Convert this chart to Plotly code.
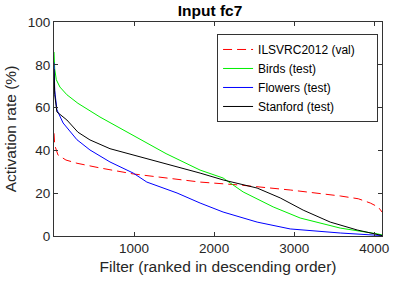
import plotly.graph_objects as go

# Filter rank positions and activation rates (%)
ils_x = [1, 10, 50, 150, 287, 575, 990, 1400, 1825, 2325, 2950, 3575, 3800, 3950, 4050, 4096]
ils_y = [48, 42.5, 37.9, 35.5, 34, 31.8, 29, 27, 25.2, 23.8, 21.5, 18.7, 17.4, 15.4, 13.5, 11.2]

birds_x = [1, 10, 30, 75, 162, 300, 575, 1037, 1400, 1825, 2112, 2362, 2737, 3075, 3575, 4037, 4096]
birds_y = [86, 78, 73, 69.6, 66, 62, 55.6, 45.8, 38.5, 30.8, 27.1, 20.6, 13.6, 8.4, 3.7, 1, 0.5]

flowers_x = [1, 10, 37, 115, 287, 450, 700, 990, 1160, 1537, 1825, 2112, 2537, 2950, 3575, 4075, 4096]
flowers_y = [81, 68, 59, 52.8, 45, 40.2, 34.6, 29.4, 25.2, 20.1, 15.4, 11.2, 6.5, 3.3, 1.4, 0.3, 0.2]

stanford_x = [1, 10, 37, 162, 300, 450, 700, 990, 1325, 1825, 2112, 2537, 2825, 3112, 3450, 3787, 4075, 4096]
stanford_y = [78, 66, 58, 54.2, 48.5, 44.9, 40.8, 37.9, 34.6, 29.4, 26.2, 22.4, 17.8, 12.1, 6.5, 2.8, 0.4, 0.2]

series_names = ["ILSVRC2012 (val)", "Birds (test)", "Flowers (test)", "Stanford (test)"]
x_ticks = [1000, 2000, 3000, 4000]
y_ticks = [0, 20, 40, 60, 80, 100]

FONT = "Liberation Sans"
PAD = "\u00a0" * 5  # extra right padding inside the legend box

fig = go.Figure()
fig.add_trace(go.Scatter(x=ils_x, y=ils_y, mode="lines", name=series_names[0] + PAD,
                         line=dict(color="#ff0000", width=1, dash="9px,5px")))
fig.add_trace(go.Scatter(x=birds_x, y=birds_y, mode="lines", name=series_names[1],
                         line=dict(color="#00ee00", width=1)))
fig.add_trace(go.Scatter(x=flowers_x, y=flowers_y, mode="lines", name=series_names[2],
                         line=dict(color="#0000ff", width=1)))
fig.add_trace(go.Scatter(x=stanford_x, y=stanford_y, mode="lines", name=series_names[3],
                         line=dict(color="#000000", width=1)))

axis_common = dict(showgrid=False, zeroline=False, showline=True, linecolor="#333333",
                   linewidth=1, mirror="ticks", ticks="inside", ticklen=4,
                   tickcolor="#333333", automargin=False,
                   tickfont=dict(family=FONT, size=13.5, color="#262626"))

fig.update_layout(
    width=394, height=283,
    margin=dict(l=54, r=12, t=22, b=47),
    paper_bgcolor="white", plot_bgcolor="white",
    title=dict(text="<b>Input fc7</b>", x=210 / 394, xanchor="center",
               y=1 - 11 / 283, yanchor="middle", automargin=False,
               font=dict(family=FONT, size=15.5, color="black")),
    xaxis=dict(range=[1, 4096], tickvals=x_ticks,
               title=dict(text="Filter (ranked in descending order)", standoff=5,
                          font=dict(family=FONT, size=15.5, color="#262626")),
               **axis_common),
    yaxis=dict(range=[0, 100], tickvals=y_ticks,
               title=dict(text="Activation rate (%)", standoff=7,
                          font=dict(family=FONT, size=15.5, color="#262626")),
               **axis_common),
    legend=dict(x=0.988, y=0.944, xanchor="right", yanchor="top",
                bgcolor="white", bordercolor="#333333", borderwidth=1,
                font=dict(family=FONT, size=12, color="black"),
                tracegroupgap=0, itemwidth=30),
    showlegend=True,
)

fig.write_html("out.html", config={"displayModeBar": False},
               post_script="document.body.style.margin='0';document.body.style.padding='0';")
